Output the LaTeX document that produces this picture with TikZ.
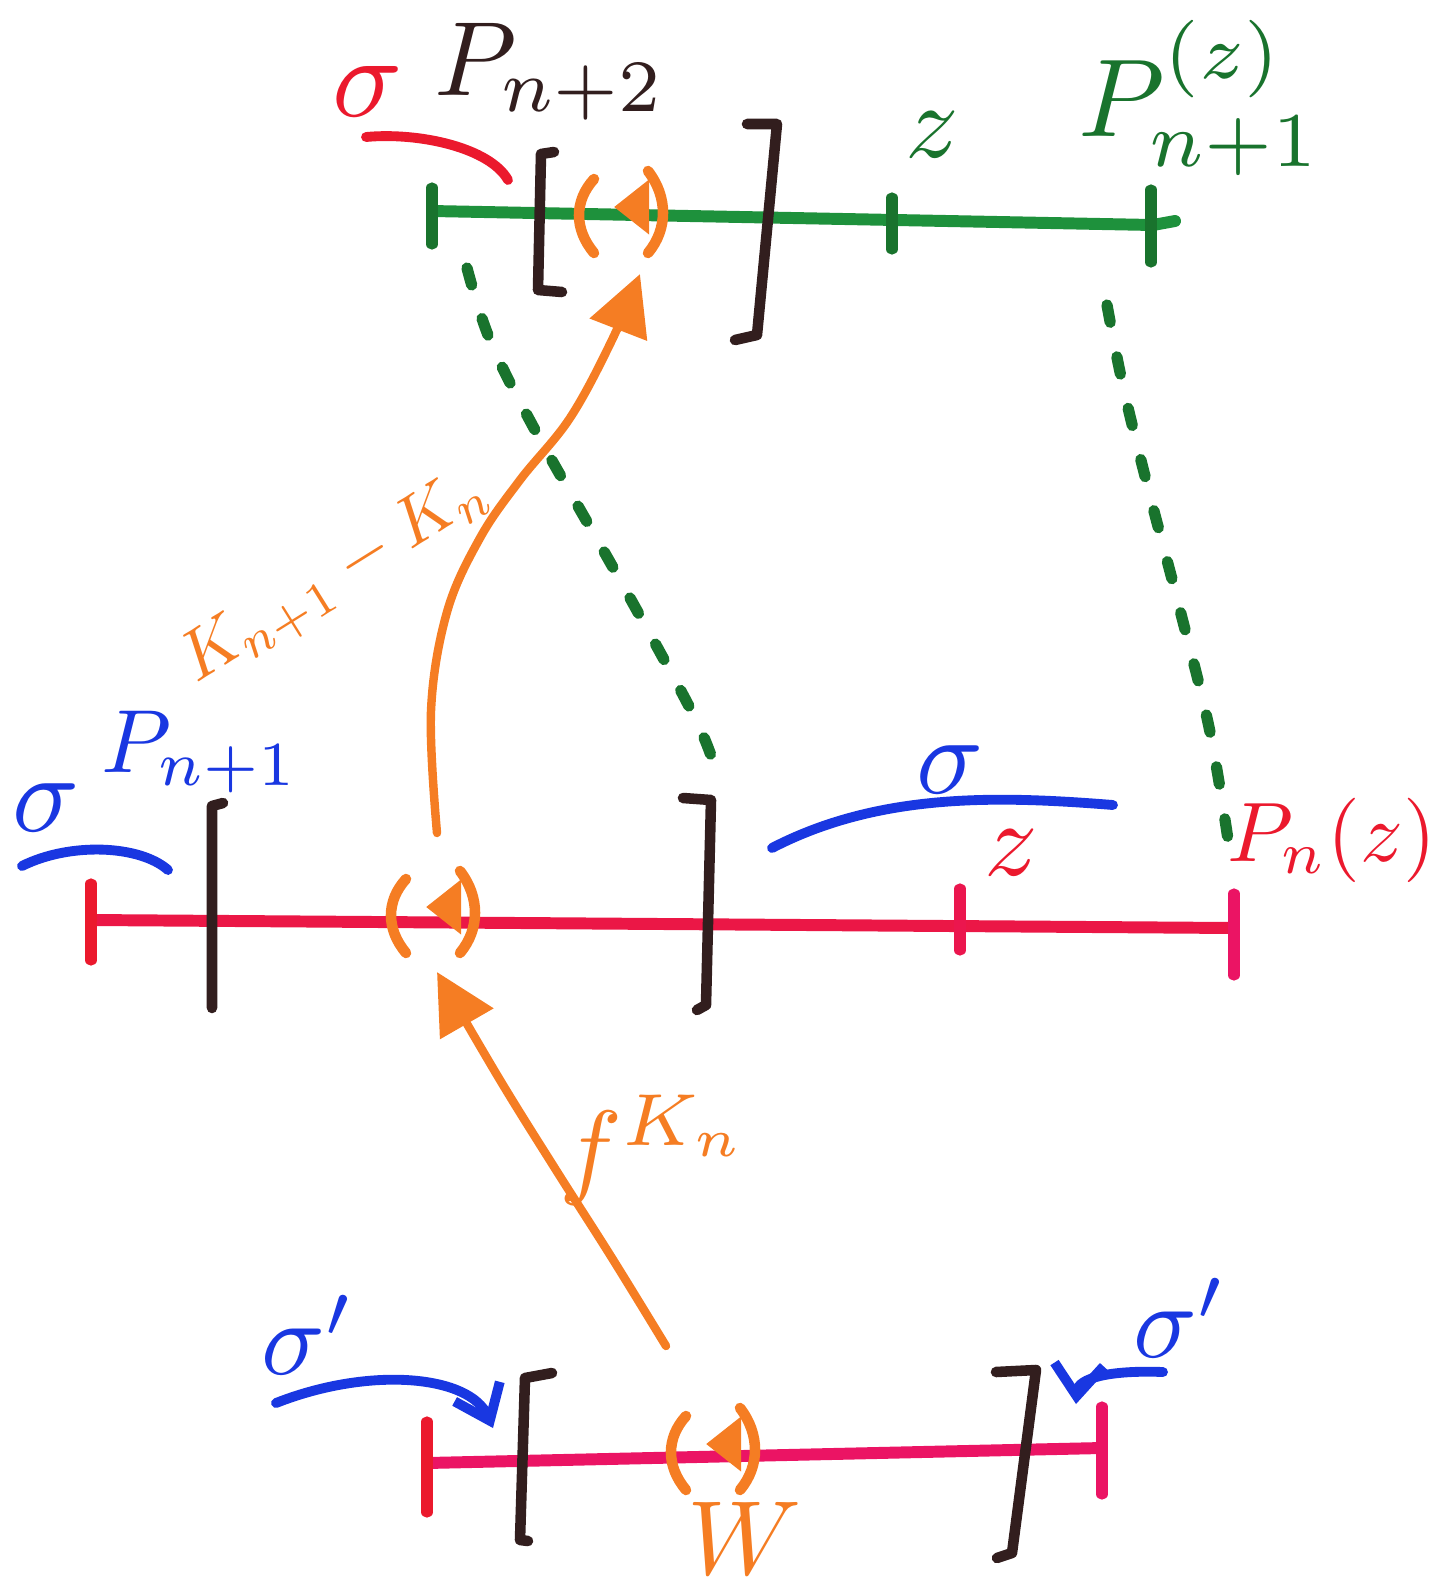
\documentclass[tikz,border=0pt]{standalone}
\usetikzlibrary{arrows.meta}
\definecolor{mgreen}{RGB}{30,145,60}
\definecolor{dgreen}{RGB}{25,115,45}
\definecolor{mred}{RGB}{235,25,45}
\definecolor{mpink}{RGB}{235,20,100}
\definecolor{morange}{RGB}{245,125,35}
\definecolor{mblue}{RGB}{25,55,225}
\definecolor{mblack}{RGB}{50,30,30}
\tikzset{
  omark/.pic={
    \draw[morange, line width=3pt] (-26,-36) .. controls (-46,-14) and (-46,14) .. (-26,38);
    \draw[morange, line width=3pt] (28,-44) .. controls (48,-18) and (48,14) .. (28,38);
    \draw[morange, line width=6pt, line cap=butt, -{Triangle[length=10pt,width=15pt]}] (28,-8) -- (-6,-8);
  }
}
\begin{document}
\begin{tikzpicture}[x=0.01cm,y=-0.01cm, line cap=round, line join=round,
  seg/.style={line width=3.4pt},
  tickmark/.style={line width=3.2pt},
  brk/.style={mblack, line width=3pt},
  dots/.style={dgreen, line width=3.2pt, dash pattern=on 5pt off 10pt},
  lbl/.style={inner sep=0pt, scale=3},
  sarc/.style={line width=2.8pt},
  oarrow/.style={morange, line width=2.4pt, -{Triangle[length=17pt,width=17pt]}},
  barrow/.style={mblue, line width=2.8pt, -{Straight Barb[length=9pt,width=14pt]}}]
\useasboundingbox (0,0) rectangle (1435,1593);

% ---------- top line (green) ----------
\coordinate (tl) at (432,211);
\coordinate (tz) at (892,220);
\coordinate (tr) at (1153,225);
\draw[mgreen, seg] (tl) -- (tr) -- ++(22,-4);
\draw[dgreen, tickmark] (432,188) -- (432,244);
\draw[dgreen, tickmark] (892,198) -- (892,249);
\draw[dgreen, tickmark] (1151,190) -- (1151,262);
\draw[brk] (554,152) -- (541,154) -- (538,290) -- (562,292);
\draw[brk] (747,124) -- (777,124) -- (757,335) -- (735,340);
\pic (tm) at (620,215) {omark};
\coordinate (tmark) at (640,274);

\node[lbl, mred, scale=1.1] (s1) at (368,92) {$\sigma$};
\draw[mred, sarc] (366,137) .. controls (420,132) and (490,148) .. (508,180);
\node[lbl, mblack] (pn2) at (550,72) {$P_{n+2}$};
\node[lbl, dgreen] (zt) at (932,135) {$z$};
\node[lbl, dgreen, scale=1.05] (pz) at (1200,98) {$P^{(z)}_{n+1}$};

% ---------- middle line (red) ----------
\coordinate (ml) at (91,920);
\coordinate (mz) at (960,922);
\coordinate (mr) at (1234,928);
\draw[mred!55!mpink, seg] (ml) -- (mr);
\draw[mred, tickmark] (91,884) -- (91,960);
\draw[mred!40!mpink, tickmark] (960,889) -- (960,950);
\draw[mpink, tickmark] (1234,894) -- (1234,975);
\draw[brk] (223,803) -- (212,806) -- (212,1008);
\draw[brk] (683,798) -- (711,800) -- (706,1005) -- (697,1010);
\pic (mm) at (432,915) {omark};
\coordinate (mtop) at (437,833);
\coordinate (mbot) at (437,972);

\node[lbl, mblue, scale=1.05] (s2) at (46,808) {$\sigma$};
\draw[mblue, sarc] (22,866) .. controls (70,842) and (140,845) .. (168,870);
\node[lbl, mblue, scale=0.85] (pn1) at (200,752) {$P_{n+1}$};
\node[lbl, mblue, scale=1.05] (s3) at (950,770) {$\sigma$};
\draw[mblue, sarc] (772,848) .. controls (880,792) and (1000,796) .. (1113,805);
\node[lbl, mred] (zm) at (1011,853) {$z$};
\node[lbl, mred, scale=0.8] (pnz) at (1332,840) {$P_n(z)$};

% ---------- bottom line (pink) ----------
\coordinate (bl) at (427,1463);
\coordinate (br) at (1102,1448);
\draw[mpink, seg] (bl) -- (br);
\draw[mred, tickmark] (427,1422) -- (427,1512);
\draw[mpink, tickmark] (1102,1407) -- (1102,1494);
\draw[brk] (552,1373) -- (525,1378) -- (520,1540) -- (528,1541);
\draw[brk] (996,1372) -- (1036,1370) -- (1012,1553) -- (997,1558);
\pic (bm) at (712,1452) {omark};
\coordinate (bstart) at (666,1346);

\node[lbl, morange] (w) at (745,1538) {$W$};
\node[lbl, mblue] (sp1) at (308,1335) {$\sigma'$};
\node[lbl, mblue] (sp2) at (1180,1318) {$\sigma'$};
\coordinate (sp1a) at (276,1403);
\coordinate (sp1b) at (493,1428);
\coordinate (sp2a) at (1163,1372);
\coordinate (sp2b) at (1076,1404);
\draw[barrow] (sp1a) .. controls (370,1366) and (470,1375) .. (sp1b);
\draw[barrow] (sp2a) .. controls (1110,1370) and (1078,1378) .. (sp2b);

% ---------- orange maps ----------
\draw[oarrow] plot[smooth, tension=0.6] coordinates {(mtop) (431,711) (447,612) (480,538) (520,480) (570,418) (612,340) (tmark)};
\node[lbl, morange, rotate=32, scale=0.66] (kk) at (336,578) {$K_{n+1}-K_n$};
\draw[oarrow] plot[smooth, tension=0.6] coordinates {(bstart) (612,1258) (556,1170) (500,1080) (mbot)};
\node[lbl, morange] (fk) at (655,1150) {$f^{K_n}$};

% ---------- green dotted correspondences ----------
\draw[dots] plot[smooth, tension=0.6] coordinates {(467,268) (490,340) (535,430) (620,580) (695,718) (716,772)};
\draw[dots] plot[smooth, tension=0.6] coordinates {(1107,305) (1123,386) (1148,488) (1180,610) (1210,732) (1230,853)};
\end{tikzpicture}
\end{document}
